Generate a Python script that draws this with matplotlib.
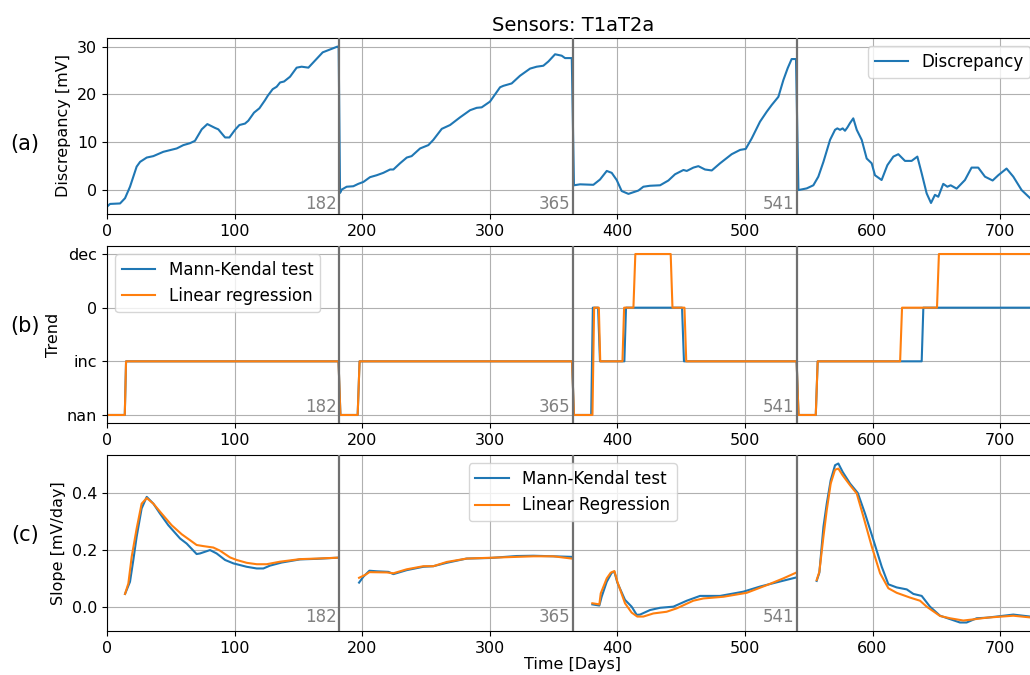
import numpy as np
import matplotlib
matplotlib.use('Agg')
import matplotlib.pyplot as plt

nan = np.nan

# (a) discrepancy [mV] vs day
disc_x = [0, 2.4, 10.3, 14.2, 18.1, 23.3, 26, 31.2, 36.4, 44.2, 54.7, 59.9, 65.1, 69.0, 74.3, 78.7,
          84.7, 87.3, 92.6, 96, 100.4, 103.8, 108.2, 110.8, 115.3, 119.5, 123.9, 126, 129.9, 133.0,
          135.7, 138.8, 143.5, 148.7, 152.6, 157.9, 163.1, 169.1, 174.8, 180.6, 181.6,
          182.7, 184, 187.9, 193.1, 197, 201, 206.2, 211.4, 216.6, 221.9, 224.5, 229.7, 235, 238.8,
          245.4, 251.9, 255.8, 262.4, 268.9, 276.7, 284.6, 289.8, 293.7, 300.2, 308.1, 310.7, 317.2,
          323.7, 331.6, 336.8, 342.0, 346, 351.2, 356.4, 359.0, 364.3,
          366.0, 370.8, 381.2, 386.4, 391.7, 395.6, 399.5, 403.4, 408.7, 416.5, 420.4, 425.6, 433.5,
          440.0, 445.2, 451.8, 454.4, 459.6, 463.5, 468.7, 474.0, 480.5, 489.6, 496.2, 500.6, 505.3,
          511.8, 517.1, 521.0, 526.2, 530.1, 533.5, 536.6, 540,
          541.9, 548.4, 553.6, 557.5, 561.5, 566.7, 570.6, 572.4, 574.5, 576.6, 578.4, 580.3, 582.3,
          584.9, 587.6, 591.5, 595.4, 599.3, 601.9, 607.1, 611.6, 616.3, 620.2, 625.4, 630.6, 635.1,
          638.5, 642.4, 645.8, 648.9, 651.5, 655.4, 658.6, 661.2, 665.9, 672.4, 677.6, 682.8, 688.1,
          694.1, 698.5, 705.0, 710.3, 716.8, 723.5]
disc_y = [-3.5, -2.9, -2.8, -1.7, 0.7, 4.9, 5.9, 6.8, 7.1, 8.0, 8.7, 9.4, 9.8, 10.3, 12.7, 13.8,
          13.0, 12.7, 11.0, 11.0, 12.6, 13.6, 13.9, 14.5, 16.2, 17.1, 18.8, 19.7, 21.1, 21.6,
          22.5, 22.7, 23.7, 25.6, 25.8, 25.6, 27.1, 28.8, 29.4, 30.0, 30.0,
          -0.6, 0.1, 0.7, 0.8, 1.3, 1.7, 2.7, 3.1, 3.6, 4.3, 4.3, 5.6, 6.8, 7.1,
          8.7, 9.4, 10.5, 12.8, 13.6, 15.2, 16.7, 17.2, 17.3, 18.5, 21.5, 21.8, 22.3,
          23.9, 25.4, 25.8, 26.0, 26.9, 28.4, 28.1, 27.6, 27.6,
          1.0, 1.2, 1.1, 2.2, 4.0, 3.6, 2.1, -0.2, -0.8, -0.1, 0.7, 0.9, 1.0,
          2.0, 3.3, 4.2, 4.0, 4.7, 5.0, 4.3, 4.1, 5.6, 7.5, 8.4, 8.6, 10.8,
          14.3, 16.4, 17.8, 19.5, 23.0, 25.5, 27.4, 27.4,
          0.0, 0.35, 1.0, 2.8, 5.9, 10.5, 12.6, 12.9, 12.6, 12.9, 12.4, 13.1, 14.0,
          15.0, 12.6, 10.5, 6.6, 5.6, 3.1, 2.1, 5.2, 7.0, 7.5, 6.1, 6.1, 7.0,
          3.5, -0.7, -2.7, -1.0, -1.4, 1.3, 0.7, 1.0, 0.3, 2.1, 4.7, 4.7, 2.8,
          2.0, 3.1, 4.5, 2.8, 0.0, -1.7]

# (b) trend class: 0 = nan, 1 = inc, 2 = 0, 3 = dec
trend_labels = ['nan', 'inc', '0', 'dec']
mk_x = [0, 14, 15, 181.5, 183, 196.5, 198, 364.5, 366, 379.5, 380.8, 384.9, 386.4, 405.5, 406.8,
        450.7, 452.2, 540.5, 542, 555.5, 557, 638.5, 639.8, 723.5]
mk_y = [0, 0, 1, 1, 0, 0, 1, 1, 0, 0, 2, 2, 1, 1, 2,
        2, 1, 1, 0, 0, 1, 1, 2, 2]
lr_x = [0, 14, 15, 181.5, 183, 196.5, 198, 364.5, 366, 380.5, 381.8, 385.5, 386.6, 404, 405.3,
        412.6, 414.1, 441.8, 443.2, 452.6, 454, 540.5, 542, 555.5, 557, 621.6, 623.1, 650.5, 652, 723.5]
lr_y = [0, 0, 1, 1, 0, 0, 1, 1, 0, 0, 2, 2, 1, 1, 2,
        2, 3, 3, 2, 2, 1, 1, 0, 0, 1, 1, 2, 2, 3, 3]

# (c) slope [mV/day]
mk_slope_x = [14.2, 18.1, 20.7, 23.3, 27.2, 31.2, 36.4, 41.6, 48.1, 57.3, 62.5, 70.3, 72.9, 80.8, 86.0,
              92.6, 99.1, 109.5, 117.4, 122.6, 127.8, 137, 151.3, 164.4, 180.6, nan,
              197.6, 201, 205.7, 211.4, 220.6, 224.5, 234.9, 248, 255.8, 266.3, 281.9, 300.2, 321.1,
              334.2, 349.8, 364.3, nan,
              380.4, 385.9, 387.7, 391.7, 395.6, 397.7, 400, 406, 411.2, 415.2, 417.8, 425.6, 433.5,
              443.9, 454.4, 464.8, 480.5, 498.8, 511.8, 524.9, 540, nan,
              556.2, 558.3, 561.5, 564.1, 567.2, 570.6, 573.2, 576.6, 582.4, 588.4, 594.1, 600.7, 607.2,
              612.4, 618.9, 626.8, 632, 638.5, 645, 652.9, 660.7, 668.5, 673.7, 681.6, 689.4, 697.2,
              710.3, 723.5]
mk_slope_y = [0.045, 0.088, 0.165, 0.247, 0.347, 0.388, 0.364, 0.329, 0.288, 0.241, 0.223, 0.186, 0.188,
              0.200, 0.188, 0.165, 0.153, 0.141, 0.135, 0.135, 0.145, 0.156, 0.167, 0.169, 0.173, nan,
              0.085, 0.106, 0.127, 0.125, 0.123, 0.115, 0.129, 0.141, 0.143, 0.155, 0.170, 0.172, 0.179,
              0.180, 0.178, 0.176, nan,
              0.008, 0.004, 0.035, 0.088, 0.120, 0.123, 0.085, 0.024, 0.0, -0.029, -0.028, -0.012, -0.004,
              0.0, 0.021, 0.038, 0.038, 0.053, 0.071, 0.086, 0.103, nan,
              0.091, 0.120, 0.282, 0.364, 0.447, 0.500, 0.506, 0.476, 0.435, 0.402, 0.329, 0.235, 0.141,
              0.079, 0.068, 0.061, 0.045, 0.038, 0.0, -0.032, -0.044, -0.056, -0.056, -0.041, -0.039,
              -0.035, -0.028, -0.035]
lr_slope_x = [14.2, 16.8, 19.4, 23.3, 27.2, 31.2, 36.4, 42.9, 50.7, 58.6, 65.1, 70.3, 75.6, 83.4, 88.6,
              96.5, 101.7, 109.5, 117.4, 125.2, 135.7, 151.3, 164.4, 180.6, nan,
              197.6, 202.3, 205.7, 219.3, 224.5, 234.9, 248, 255.8, 266.3, 281.9, 308, 334.2, 349.8,
              364.3, nan,
              380.4, 385.9, 387, 391.7, 394.8, 397.7, 400, 406, 411.2, 415.6, 420.4, 428.2, 438.6, 446.5,
              459.5, 467.4, 483.1, 501.4, 517.1, 530.1, 540, nan,
              556.2, 558.3, 561.5, 564.1, 567.2, 570.6, 573.2, 576.6, 582.4, 587.6, 592.9, 599.4, 605.9,
              612.4, 618.9, 629.4, 637.2, 642.4, 652.9, 660.7, 671.1, 678.9, 689.4, 710.3, 723.5]
lr_slope_y = [0.045, 0.082, 0.176, 0.276, 0.364, 0.384, 0.364, 0.329, 0.288, 0.256, 0.235, 0.218, 0.214,
              0.209, 0.198, 0.174, 0.165, 0.155, 0.150, 0.150, 0.159, 0.168, 0.170, 0.173, nan,
              0.102, 0.112, 0.122, 0.121, 0.118, 0.132, 0.143, 0.143, 0.158, 0.170, 0.174, 0.178, 0.178,
              0.170, nan,
              0.012, 0.008, 0.047, 0.100, 0.120, 0.126, 0.088, 0.012, -0.021, -0.035, -0.035, -0.024,
              -0.018, -0.006, 0.021, 0.029, 0.035, 0.049, 0.076, 0.100, 0.120, nan,
              0.094, 0.123, 0.247, 0.341, 0.435, 0.484, 0.488, 0.464, 0.429, 0.400, 0.317, 0.212, 0.118,
              0.065, 0.049, 0.032, 0.021, 0.0, -0.033, -0.041, -0.049, -0.045, -0.039, -0.032, -0.038]

breaks = [182, 365, 541]

plt.rcParams['font.size'] = 11.5
plt.rcParams['xtick.labelsize'] = 11.5
plt.rcParams['ytick.labelsize'] = 11.5
plt.rcParams['legend.fontsize'] = 12

fig = plt.figure(figsize=(10.3, 6.75), dpi=100)
left, right = 0.1038, 1.0082
ax1 = fig.add_axes([left, 0.683, right - left, 0.2607])
ax2 = fig.add_axes([left, 0.3733, right - left, 0.2623])
ax3 = fig.add_axes([left, 0.0652, right - left, 0.2607])

ax1.plot(disc_x, disc_y, color='tab:blue', lw=1.5, label='Discrepancy')
ax1.set_ylim(-5.0, 31.8)
ax1.set_yticks([0, 10, 20, 30])
ax1.set_ylabel('Discrepancy [mV]')
ax1.set_title('Sensors: T1aT2a', fontsize=14, pad=5)
ax1.legend(loc='upper right')

ax2.plot(mk_x, mk_y, color='tab:blue', lw=1.5, label='Mann-Kendal test')
ax2.plot(lr_x, lr_y, color='tab:orange', lw=1.5, label='Linear regression')
ax2.set_ylim(-0.15, 3.15)
ax2.set_yticks([0, 1, 2, 3])
ax2.set_yticklabels(trend_labels)
ax2.set_ylabel('Trend')
ax2.legend(loc='upper left')

ax3.plot(mk_slope_x, mk_slope_y, color='tab:blue', lw=1.5, label='Mann-Kendal test')
ax3.plot(lr_slope_x, lr_slope_y, color='tab:orange', lw=1.5, label='Linear Regression')
ax3.set_ylim(-0.086, 0.536)
ax3.set_yticks([0.0, 0.2, 0.4])
ax3.set_ylabel('Slope [mV/day]')
ax3.set_xlabel('Time [Days]', labelpad=1)
ax3.legend(loc='upper center')

label_y = {ax1: -4.85, ax2: -0.02, ax3: -0.068}
for ax in [ax1, ax2, ax3]:
    ax.set_xlim(0, 730)
    ax.set_xticks(range(0, 800, 100))
    ax.grid(True, color='#b0b0b0', lw=0.8)
    ax.spines['right'].set_visible(False)
    for b in breaks:
        ax.axvline(b, color='#707070', lw=1.6, zorder=3)
        ax.text(b - 2, label_y[ax], str(b), color='gray', ha='right', va='bottom', fontsize=12)

fig.text(0.024, 0.787, '(a)', fontsize=15, ha='center', va='center')
fig.text(0.024, 0.517, '(b)', fontsize=15, ha='center', va='center')
fig.text(0.024, 0.207, '(c)', fontsize=15, ha='center', va='center')

fig.savefig('out.png', dpi=100)
